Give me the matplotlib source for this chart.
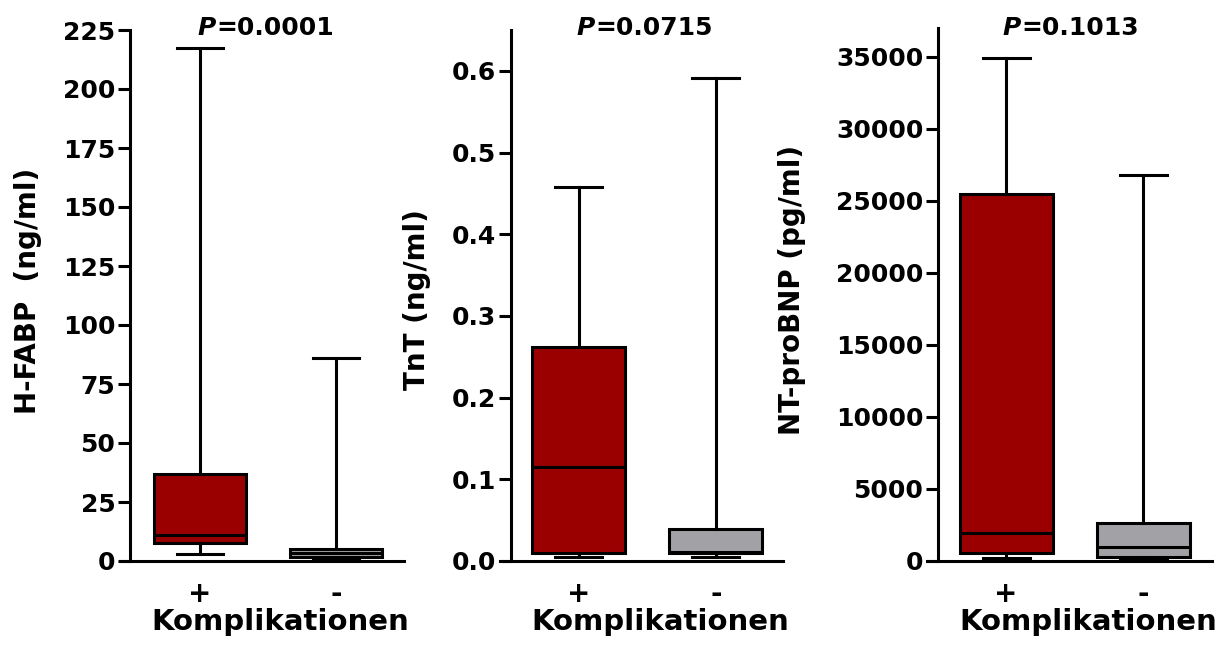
import matplotlib
matplotlib.use("Agg")
import matplotlib.pyplot as plt
import numpy as np

plt.rcParams['font.family'] = ['DejaVu Sans']
plt.rcParams['font.weight'] = 'bold'

## group labels
groups = ['+', '-']
box_colors = ['#9b0000', '#a2a2a6']

## H-FABP (ng/ml)
hfabp_lo = [2.8, 0.8]
hfabp_q1 = [7.8, 1.5]
hfabp_med = [10.9, 3.3]
hfabp_q3 = [36.7, 5.0]
hfabp_hi = [217.5, 86.0]

## TnT (ng/ml)
tnt_lo = [0.005, 0.005]
tnt_q1 = [0.0094, 0.0094]
tnt_med = [0.115, 0.011]
tnt_q3 = [0.262, 0.039]
tnt_hi = [0.458, 0.591]

## NT-proBNP (pg/ml)
bnp_lo = [190, 70]
bnp_q1 = [560, 250]
bnp_med = [1950, 990]
bnp_q3 = [25500, 2650]
bnp_hi = [34950, 26800]

p_values = ['0.0001', '0.0715', '0.1013']
ylabels = ['H-FABP  (ng/ml)', 'TnT (ng/ml)', 'NT-proBNP (pg/ml)']
yticks = [np.arange(0, 226, 25), np.arange(0, 0.61, 0.1), np.arange(0, 35001, 5000)]
ytick_labels = [[str(int(v)) for v in yticks[0]],
                ['%.1f' % v for v in yticks[1]],
                [str(int(v)) for v in yticks[2]]]
ymax = [225, 0.65, 37000]

W, H = 1226, 646
fig = plt.figure(figsize=(W / 100, H / 100), dpi=100)

# panel layout in pixels: left, right, top, y-spine x, xlim, P label split x, ylabel x, ylabel y
layout = [
    (120, 404, 30, 130, (0.412, 2.50), 216, 28, 291),
    (500, 783, 30, 511, (0.427, 2.49), 595, 417, 300),
    (927, 1212, 28, 938, (0.423, 2.50), 1021, 792, 290),
]
bottom = 561
data = [
    (hfabp_lo, hfabp_q1, hfabp_med, hfabp_q3, hfabp_hi),
    (tnt_lo, tnt_q1, tnt_med, tnt_q3, tnt_hi),
    (bnp_lo, bnp_q1, bnp_med, bnp_q3, bnp_hi),
]

lw = 2.2
for i, (l, r, top, sx, xl, psplit, ylx, yly) in enumerate(layout):
    ax = fig.add_axes([l / W, (H - bottom) / H, (r - l) / W, (bottom - top) / H])
    lo, q1, med, q3, hi = data[i]
    stats = []
    for j in range(2):
        stats.append(dict(whislo=lo[j], q1=q1[j], med=med[j], q3=q3[j], whishi=hi[j], fliers=[]))
    bp = ax.bxp(stats, positions=[1, 2], widths=0.676, capwidths=0.34, patch_artist=True,
                showfliers=False,
                boxprops=dict(linewidth=lw, edgecolor='black'),
                whiskerprops=dict(linewidth=lw, color='black'),
                capprops=dict(linewidth=lw, color='black'),
                medianprops=dict(linewidth=lw, color='black'))
    for patch, c in zip(bp['boxes'], box_colors):
        patch.set_facecolor(c)
    for art in bp['boxes'] + bp['whiskers'] + bp['caps'] + bp['medians']:
        art.set_clip_on(False)

    ax.set_xlim(*xl)
    ax.set_ylim(0, ymax[i])
    ax.spines['top'].set_visible(False)
    ax.spines['right'].set_visible(False)
    ax.spines['left'].set_position(('axes', (sx - l) / (r - l)))
    ax.spines['left'].set_linewidth(lw)
    ax.spines['bottom'].set_linewidth(lw)
    ax.set_yticks(yticks[i])
    ax.set_yticklabels(ytick_labels[i], fontsize=18, fontweight='bold')
    ax.tick_params(axis='y', length=8.6, width=lw, pad=2)
    ax.set_xticks([1, 2])
    ax.set_xticklabels(groups, fontsize=20, fontweight='bold')
    ax.tick_params(axis='x', length=0, pad=14)

    ## axis titles and p value
    xc = l + 0.566 * (r - l)
    fig.text(xc / W, 1 - 622 / H, 'Komplikationen', fontsize=21, fontweight='bold',
             ha='center', va='center')
    fig.text(ylx / W, 1 - yly / H, ylabels[i], fontsize=20, fontweight='bold',
             rotation=90, ha='center', va='center')
    fig.text(psplit / W, 1 - 35 / H, 'P', fontsize=18, fontweight='bold', style='italic',
             ha='right', va='baseline')
    fig.text(psplit / W, 1 - 35 / H, '=' + p_values[i], fontsize=18, fontweight='bold',
             ha='left', va='baseline')

fig.savefig('out.png', dpi=100)
